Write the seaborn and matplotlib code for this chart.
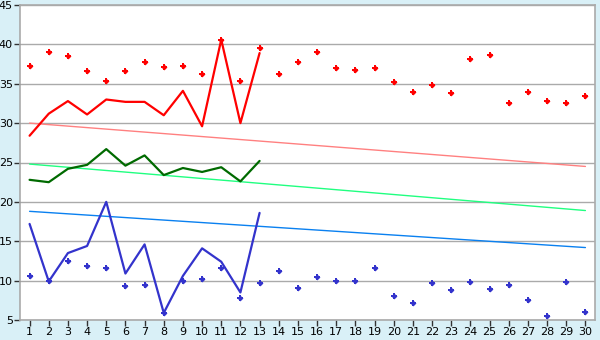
import matplotlib
matplotlib.use("Agg")
import matplotlib.pyplot as plt
import seaborn as sns
import numpy as np
import pandas as pd

days = list(range(1, 31))
line_days = list(range(1, 14))

red_points = [37.3, 39.0, 38.5, 36.6, 35.4, 36.6, 37.8, 37.1, 37.3, 36.3,
              40.6, 35.4, 39.5, 36.2, 37.7, 39.0, 37.0, 36.7, 37.0, 35.2,
              34.0, 34.8, 33.8, 38.2, 38.7, 32.5, 34.0, 32.8, 32.5, 33.5]
blue_points = [10.6, 9.9, 12.5, 11.8, 11.6, 9.3, 9.4, 5.9, 10.0, 10.2,
               11.6, 7.8, 9.7, 11.2, 9.1, 10.4, 9.9, 10.0, 11.6, 8.0,
               7.1, 9.7, 8.8, 9.8, 9.0, 9.5, 7.5, 5.5, 9.8, 6.0]
red_line = [28.4, 31.2, 32.8, 31.1, 33.0, 32.7, 32.7, 31.0, 34.1, 29.6, 40.6, 30.0, 38.9]
green_line = [22.8, 22.5, 24.2, 24.7, 26.7, 24.6, 25.9, 23.4, 24.3, 23.8, 24.4, 22.6, 25.2]
blue_line = [17.2, 9.9, 13.5, 14.4, 20.0, 10.9, 14.6, 5.9, 10.6, 14.1, 12.4, 8.5, 18.6]

trend_days = [1, 30]
red_trend = [30.0, 24.5]
green_trend = [24.8, 18.9]
blue_trend = [18.8, 14.2]

y_ticks = [5, 10, 15, 20, 25, 30, 35, 40, 45]

sns.set_theme(style="white")
plt.rcParams['font.family'] = ['DejaVu Sans']

fig = plt.figure(figsize=(6, 3.4), dpi=100, facecolor="#d9f0f7")
ax = fig.add_axes([20/600, 1-320/340, 575/600, 315/340])
ax.set_facecolor("white")

for yt in y_ticks:
    ax.axhline(yt, color="#aaaaaa", lw=1.0, zorder=0)

sns.lineplot(x=trend_days, y=red_trend, color="#ff8080", lw=1.0, ax=ax)
sns.lineplot(x=trend_days, y=green_trend, color="#20ff80", lw=1.0, ax=ax)
sns.lineplot(x=trend_days, y=blue_trend, color="#0a80f0", lw=1.0, ax=ax)

sns.lineplot(x=line_days, y=red_line, color="#ff0000", lw=1.6, ax=ax)
sns.lineplot(x=line_days, y=green_line, color="#006a00", lw=1.6, ax=ax)
sns.lineplot(x=line_days, y=blue_line, color="#3333cc", lw=1.6, ax=ax)

for pts, col in [(red_points, "#ff0000"), (blue_points, "#3333cc")]:
    sns.scatterplot(x=days, y=pts, color=col, marker="P", s=16,
                    linewidth=0, ax=ax, zorder=5)
    sns.scatterplot(x=days, y=pts, color=col, marker="D", s=9,
                    linewidth=0, ax=ax, zorder=5)

ax.set_xlim(0.5, 30.5)
ax.set_ylim(5, 45)
ax.set_xticks(days)
ax.set_xticklabels([str(d) for d in days])
ax.set_yticks(y_ticks)
ax.set_yticklabels([str(v) for v in y_ticks])
ax.tick_params(axis="both", which="both", length=4, width=1, color="#333333",
               labelsize=8, labelcolor="black", pad=1, direction="out")
ax.tick_params(axis="x", bottom=True)
ax.tick_params(axis="y", left=True)
for side in ["left", "right", "top", "bottom"]:
    ax.spines[side].set_visible(True)
    ax.spines[side].set_color("#aaaaaa")
    ax.spines[side].set_linewidth(1.2)
ax.grid(False)

fig.savefig("out.png", dpi=100, facecolor=fig.get_facecolor())
